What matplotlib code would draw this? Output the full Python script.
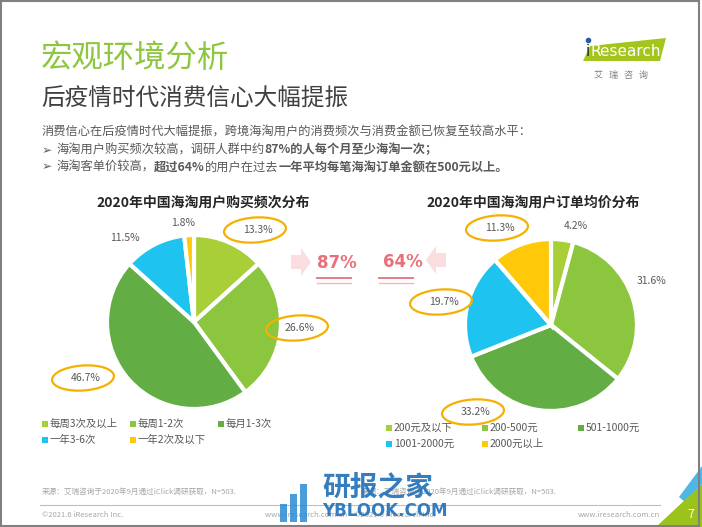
#!/usr/bin/env python3
"""iResearch slide: 2020 cross-border shopping frequency and order value pies."""
import matplotlib
matplotlib.use("Agg")
import matplotlib.pyplot as plt
from matplotlib.patches import Ellipse, Polygon, Rectangle

plt.rcParams["font.family"] = ["Noto Sans CJK SC", "DejaVu Sans"]

# ---- data ------------------------------------------------------------------
freq_labels = ["每周3次及以上", "每周1-2次", "每月1-3次", "一年3-6次", "一年2次及以下"]
freq_values = [13.3, 26.6, 46.7, 11.5, 1.8]

price_labels = ["200元及以下", "200-500元", "501-1000元", "1001-2000元", "2000元以上"]
price_values = [4.2, 31.6, 33.2, 19.7, 11.3]

colors = ["#A9CF38", "#8CC63E", "#62AE45", "#1FC3EF", "#FFC90A"]

W, H = 702, 527
GRAY = "#595959"
ORANGE = "#F5B000"
PINK = "#E8707A"


def Y(y):
    # slide coordinates are measured from the top
    return H - y


fig = plt.figure(figsize=(W / 100, H / 100), dpi=100)
ax = fig.add_axes([0, 0, 1, 1])
ax.set_xlim(0, W)
ax.set_ylim(0, H)
ax.axis("off")
renderer = fig.canvas.get_renderer()


def runs(x, y, parts, size=8.8):
    """Draw a line made of (text, bold) pieces one after another."""
    for txt, bold in parts:
        fam = ["DejaVu Sans"] if txt.startswith("➢") else ["Noto Sans CJK SC", "DejaVu Sans"]
        t = ax.text(x, Y(y), txt, fontsize=size, color=GRAY, va="center", ha="left",
                    fontweight="bold" if bold else "normal", family=fam)
        bb = t.get_window_extent(renderer)
        x += bb.width


# ---- header ---------------------------------------------------------------
ax.text(41, Y(58), "宏观环境分析", fontsize=22.6, color="#8DC63F", va="center")
ax.text(41, Y(99), "后疫情时代消费信心大幅提振", fontsize=17, color="#404040", va="center")
runs(42, 132, [("消费信心在后疫情时代大幅提振，跨境海淘用户的消费频次与消费金额已恢复至较高水平：", False)])
runs(42, 150, [("➢ ", False), ("海淘用户购买频次较高，调研人群中约", False),
               ("87%的人每个月至少海淘一次；", True)])
runs(42, 167, [("➢ ", False), ("海淘客单价较高，", False), ("超过64%", True),
               ("的用户在过去", False), ("一年平均每笔海淘订单金额在500元以上。", True)])

# logo
ax.add_patch(Polygon([(590, Y(46)), (666, Y(38)), (660, Y(61)), (583, Y(61))],
                     closed=True, color="#A4C61C", lw=0))
ax.text(586, Y(52), "i", fontsize=11, color="#2b2b2b", va="center", family="DejaVu Sans")
ax.text(591, Y(52), "Research", fontsize=11, color="white", va="center", family="DejaVu Sans")
ax.plot([588], [Y(40)], "o", color="#1F5FA8", ms=3)
ax.text(621, Y(75), "艾   瑞   咨   询", fontsize=6.5, color="#7f7f7f", ha="center", va="center")

# ---- pies -----------------------------------------------------------------
pies = [
    ("2020年中国海淘用户购买频次分布", freq_values, (194, 322), 87, 203,
     [(258, 230), (300, 328), (86, 378), (125, 238), (183, 223)], [True, True, True, False, False]),
    ("2020年中国海淘用户订单均价分布", price_values, (551, 325), 86, 533,
     [(576, 226), (652, 281), (476, 412), (444, 302), (500, 228)], [False, False, True, True, True]),
]
for title, vals, (cx, cy), r, tx, lpos, circled in pies:
    ax.pie(vals, colors=colors, center=(cx, Y(cy)), radius=r, startangle=90,
           counterclock=False, frame=True,
           wedgeprops=dict(edgecolor="white", linewidth=3))
    ax.text(tx, Y(203), title, fontsize=10, fontweight="bold", color="#262626",
            ha="center", va="center")
    for v, (lx, ly), c in zip(vals, lpos, circled):
        ax.text(lx, Y(ly), f"{v}%", fontsize=7.5, color=GRAY, ha="center", va="center")
        if c:
            ax.add_patch(Ellipse((lx - 3, Y(ly)), 62, 25, angle=4, fill=False,
                                 edgecolor=ORANGE, lw=1.6))

ax.set_xlim(0, W)
ax.set_ylim(0, H)

# legends
for rows, x0, y0, dx in [(freq_labels, 45, 424, 88), (price_labels, 389, 428, 96)]:
    for i, lab in enumerate(rows):
        x = x0 + (i % 3) * dx
        y = y0 + (i // 3) * 16
        ax.add_patch(Rectangle((x - 3, Y(y) - 3), 6, 6, color=colors[i], lw=0))
        ax.text(x + 5, Y(y), lab, fontsize=7.5, color=GRAY, va="center")

# ---- middle highlight -----------------------------------------------------
ax.text(337, Y(263), "87%", fontsize=12, fontweight="bold", color=PINK,
        ha="center", va="center", family="DejaVu Sans")
ax.text(403, Y(262), "64%", fontsize=12, fontweight="bold", color=PINK,
        ha="center", va="center", family="DejaVu Sans")
for x1, x2 in [(317, 351), (379, 413)]:
    ax.plot([x1, x2], [Y(278), Y(278)], color=PINK, lw=1.3)
    ax.plot([x1, x2], [Y(283), Y(283)], color="#F4B8BE", lw=1)
ax.add_patch(Polygon([(291, Y(255)), (301, Y(255)), (301, Y(248)), (311, Y(262)),
                      (301, Y(276)), (301, Y(269)), (291, Y(269))], color="#FBDDE0", lw=0))
ax.add_patch(Polygon([(446, Y(253)), (436, Y(253)), (436, Y(246)), (426, Y(260)),
                      (436, Y(274)), (436, Y(267)), (446, Y(267))], color="#FBDDE0", lw=0))

# ---- footer ---------------------------------------------------------------
src = "来源：艾瑞咨询于2020年9月通过iClick调研获取，N=503."
ax.text(42, Y(492), src, fontsize=5.5, color="#a6a6a6", va="center")
ax.text(362, Y(492), src, fontsize=5.5, color="#a6a6a6", va="center", zorder=1)
ax.plot([40, 660], [Y(505), Y(505)], color="#bfbfbf", lw=0.8)
ax.text(42, Y(515), "©2021.6 iResearch Inc.", fontsize=5.5, color="#a6a6a6", va="center")
ax.text(350, Y(515), "www.iresearch.com.cn    ©2021.6 iResearch Inc.", fontsize=5.5,
        color="#a6a6a6", va="center", ha="center", zorder=1)
ax.text(660, Y(515), "www.iresearch.com.cn", fontsize=5.5, color="#a6a6a6",
        va="center", ha="right")

# watermark, laid over the footer as in the source slide
ax.text(322, Y(487), "研报之家", fontsize=20, fontweight="bold", color="#1E6FB8",
        va="center", alpha=0.9, zorder=5)
ax.text(322, Y(511), "YBLOOK.COM", fontsize=12, fontweight="bold", color="#1E6FB8",
        va="center", family="DejaVu Sans", alpha=0.9, zorder=5)
for i, h in enumerate([18, 28, 38]):
    ax.add_patch(Rectangle((280 + i * 10, Y(522)), 7, h, color="#2A8BD4", lw=0,
                           alpha=0.85, zorder=5))

# corner decoration
ax.add_patch(Polygon([(702, Y(466)), (702, Y(484)), (686, Y(503)), (679, Y(497))],
                     color="#4DB8E8", lw=0))
ax.add_patch(Polygon([(702, Y(484)), (702, Y(527)), (656, Y(527))], color="#9BC31C", lw=0))
ax.text(691, Y(515), "7", fontsize=9, color="white", ha="center", va="center")

# slide frame
ax.add_patch(Rectangle((1, 1), W - 4, H - 2, fill=False, edgecolor="#808080", lw=1.5))

fig.savefig("out.png", dpi=100)
